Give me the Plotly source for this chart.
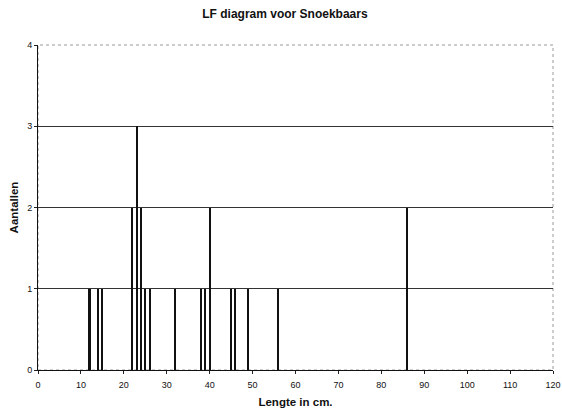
import plotly.graph_objects as go

lengths = [12, 14, 15, 22, 23, 24, 25, 26, 32, 38, 39, 40, 45, 46, 49, 56, 86]
counts = [1, 1, 1, 2, 3, 2, 1, 1, 1, 1, 1, 2, 1, 1, 1, 1, 2]
x_ticks = list(range(0, 121, 10))
y_ticks = [0, 1, 2, 3, 4]

fig = go.Figure()
fig.add_trace(go.Bar(x=lengths, y=counts, width=0.5,
                     marker=dict(color="#111111", line=dict(width=0)),
                     showlegend=False))

fig.update_layout(
    width=562, height=413,
    margin=dict(l=38, r=9, t=45, b=43, autoexpand=False),
    paper_bgcolor="white", plot_bgcolor="white",
    title=dict(text="<b>LF diagram voor Snoekbaars</b>", x=0.507, xanchor="center",
               y=0.967, yanchor="middle",
               font=dict(family="Liberation Sans, Arial", size=12, color="#111")),
    font=dict(family="Liberation Sans, Arial", color="#111"),
    bargap=0,
)
fig.update_xaxes(range=[0, 120], tickvals=x_ticks, ticks="outside", ticklen=3,
                 tickcolor="#222", showline=True, linecolor="#111", linewidth=1,
                 showgrid=False, zeroline=False, tickfont=dict(size=9),
                 automargin=False, ticklabeloverflow="allow", ticklabelstandoff=3,
                 title=dict(text="<b>Lengte in cm.</b>", font=dict(size=11.5), standoff=9),
                 mirror=False)
fig.update_yaxes(range=[0, 4], tickvals=y_ticks, ticks="outside", ticklen=3,
                 tickcolor="#222", showline=True, linecolor="#111", linewidth=1,
                 showgrid=True, gridcolor="#333", gridwidth=1, zeroline=False,
                 tickfont=dict(size=9), automargin=False,
                 title=dict(text="<b>Aantallen</b>", font=dict(size=11.5), standoff=6))
# light dotted frame on top/right
fig.add_shape(type="rect", xref="paper", yref="paper", x0=0, y0=0, x1=1, y1=1,
              line=dict(color="#999", width=1, dash="dot"), layer="below")

fig.write_html("out.html")
